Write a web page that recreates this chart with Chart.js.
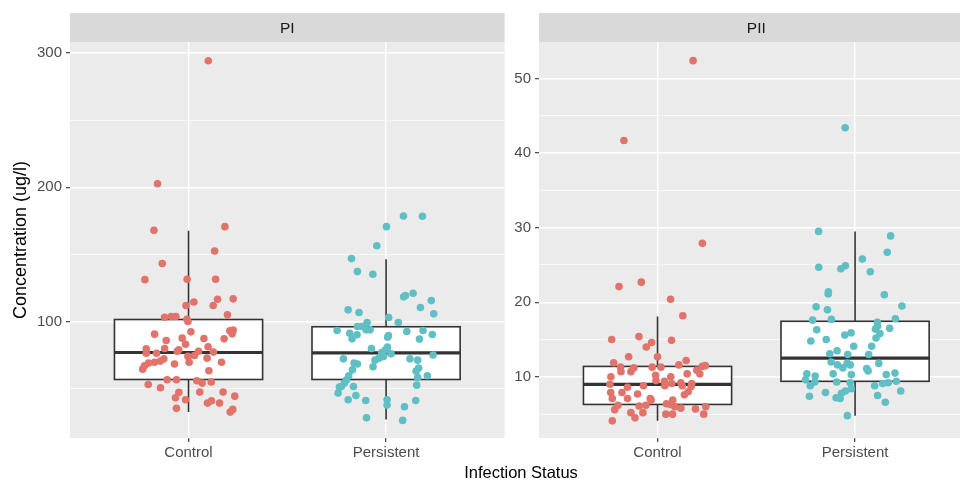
<!DOCTYPE html>
<html>
<head>
<meta charset="utf-8">
<script src="https://cdn.jsdelivr.net/npm/chart.js@4.4.1/dist/chart.umd.min.js"></script>
<style>
  html, body { margin: 0; padding: 0; background: #ffffff; }
  body { width: 960px; height: 481px; overflow: hidden; position: relative; }
  canvas { position: absolute; top: 0; }
  #xTitle {
    position: absolute; left: 0; width: 1042px; top: 463px;
    text-align: center; font: 16.5px "Liberation Sans", Arial, sans-serif; color: #000;
  }
</style>
</head>
<body>
<canvas id="piChart" width="510" height="481" style="left:0px"></canvas>
<canvas id="piiChart" width="474" height="481" style="left:505px"></canvas>
<div id="xTitle">Infection Status</div>

<script>
// ----------------------------- Data ---------------------------------------//
const categories = ['Control', 'Persistent'];
const panelNames = ['PI', 'PII'];

// PI panel - concentration values and horizontal jitter (category units)
const piControlValues = [294.3, 202.7, 168.0, 170.7, 152.6, 143.2, 131.2, 131.5, 131.5, 116.9, 116.6, 114.6, 111.9, 111.9, 105.0, 103.2, 103.7, 103.7, 101.7, 100.0, 93.1, 93.6, 90.8, 92.3, 90.6, 87.1, 87.4, 87.6, 85.9, 83.1, 81.2, 79.7, 78.9, 79.9, 77.9, 77.2, 76.4, 76.4, 77.9, 74.0, 74.7, 72.7, 72.2, 69.7, 68.3, 69.7, 70.5, 69.7, 69.0, 67.0, 64.5, 63.3, 56.6, 56.6, 55.9, 54.1, 54.9, 53.1, 50.6, 47.4, 47.4, 47.2, 43.2, 44.4, 41.7, 41.0, 39.2, 39.2, 35.3, 34.5, 32.5];
const piControlJitter = [0.10, -0.157, -0.175, 0.184, 0.132, -0.133, -0.221, -0.007, 0.137, 0.226, 0.147, 0.027, -0.013, 0.125, 0.197, -0.121, -0.088, -0.064, -0.008, -0.003, 0.209, 0.226, 0.221, 0.012, -0.172, 0.18, 0.078, -0.032, -0.113, -0.015, 0.099, -0.214, -0.049, -0.121, 0.051, 0.126, -0.162, -0.214, -0.057, -0.003, 0.03, 0.094, -0.125, 0.003, -0.071, 0.167, -0.143, -0.172, -0.202, -0.223, -0.232, 0.103, -0.108, -0.061, 0.042, 0.069, 0.115, -0.204, -0.142, 0.057, 0.175, -0.049, -0.066, 0.234, -0.015, 0.116, 0.096, 0.157, -0.061, 0.224, 0.211];
const piPersistentValues = [178.6, 178.4, 170.7, 156.5, 146.9, 137.2, 135.2, 121.1, 118.4, 119.3, 115.6, 110.4, 105.7, 108.7, 106.7, 103.0, 99.3, 99.3, 96.3, 96.3, 93.8, 93.8, 93.3, 91.3, 90.1, 87.1, 89.6, 88.3, 92.6, 93.3, 90.3, 86.9, 79.9, 80.9, 78.9, 75.9, 76.9, 74.0, 72.7, 71.2, 72.2, 72.2, 71.2, 75.0, 68.3, 69.0, 64.0, 66.3, 65.3, 63.0, 59.6, 58.3, 59.6, 56.6, 54.1, 51.6, 51.1, 51.6, 52.6, 46.7, 44.9, 41.7, 41.2, 41.7, 37.7, 41.2, 36.5, 28.3, 26.3];
const piPersistentJitter = [0.088, 0.184, 0.002, -0.047, -0.175, -0.145, -0.067, 0.137, 0.089, 0.098, 0.229, 0.174, 0.241, -0.192, -0.137, 0.013, 0.062, -0.096, -0.145, -0.12, -0.081, -0.101, -0.248, -0.184, -0.147, -0.172, 0.012, 0.008, 0.105, 0.187, 0.234, 0.169, -0.074, 0.007, -0.003, 0.025, -0.022, -0.013, -0.035, -0.056, -0.216, 0.121, 0.16, 0.238, -0.145, -0.162, -0.17, -0.066, 0.165, 0.152, 0.209, 0.16, -0.189, -0.2, -0.211, -0.226, -0.236, -0.165, 0.155, -0.243, -0.153, -0.192, -0.103, 0.005, 0.005, 0.15, 0.093, -0.099, 0.084];

// PII panel
const piiControlValues = [52.4, 41.7, 27.9, 22.1, 22.7, 20.4, 18.2, 15.0, 15.4, 14.6, 14.0, 14.9, 12.7, 12.7, 12.2, 11.9, 11.3, 10.7, 10.7, 11.2, 11.3, 11.3, 11.6, 10.9, 11.4, 11.5, 10.4, 10.4, 10.0, 10.2, 10.0, 9.0, 9.5, 9.4, 8.8, 9.1, 8.8, 8.6, 9.2, 8.8, 9.1, 8.7, 7.9, 7.9, 7.7, 7.1, 7.1, 7.1, 6.9, 7.6, 8.0, 6.2, 6.1, 6.2, 6.4, 6.3, 6.9, 6.0, 5.8, 6.0, 5.6, 5.2, 5.2, 4.5, 5.0, 5.0, 5.7, 5.0, 4.1];
const piiControlJitter = [0.18, -0.17, 0.227, -0.195, -0.082, 0.066, 0.128, -0.232, -0.094, -0.03, -0.057, 0.071, -0.146, 0, 0.145, -0.222, -0.187, -0.185, -0.135, -0.12, -0.027, 0.017, 0.108, 0.199, 0.227, 0.242, 0.214, 0.15, -0.236, -0.01, 0.067, -0.241, -0.008, 0.035, 0.037, 0.072, -0.071, -0.152, 0.118, 0.125, 0.173, 0.17, -0.237, -0.18, -0.101, -0.229, -0.152, -0.037, -0.032, 0.136, 0.155, -0.2, -0.093, -0.059, 0.045, 0.066, 0.077, 0.088, 0.118, 0.244, -0.217, -0.135, -0.074, -0.114, 0.042, 0.076, 0.192, 0.234, -0.229];
const piiPersistentValues = [43.4, 29.5, 28.9, 26.7, 24.7, 24.5, 24.9, 25.8, 24.1, 21.4, 21.1, 21.0, 19.4, 19.5, 19.0, 17.6, 17.7, 17.8, 17.3, 16.3, 16.4, 16.5, 16.8, 15.6, 15.9, 15.8, 14.8, 15.0, 15.2, 14.1, 14.1, 13.5, 13.0, 13.1, 13.0, 12.0, 11.6, 11.2, 11.8, 11.6, 11.8, 11.1, 10.8, 10.4, 10.1, 9.6, 9.3, 8.8, 10.4, 9.3, 10.3, 9.2, 10.3, 10.5, 9.1, 9.2, 9.4, 8.8, 8.4, 8.1, 7.8, 7.9, 7.4, 7.2, 7.1, 8.1, 7.5, 6.6, 4.8];
const piiPersistentJitter = [-0.05, -0.185, 0.18, 0.163, -0.184, -0.072, -0.049, 0.037, 0.077, -0.135, -0.136, 0.148, -0.197, 0.237, -0.14, -0.215, -0.12, 0.204, 0.113, -0.194, 0.103, 0.175, 0.114, -0.052, -0.02, 0.126, -0.224, -0.146, 0.106, -0.007, 0.084, -0.091, 0.069, -0.128, -0.037, -0.121, -0.089, -0.062, -0.04, -0.024, 0.12, 0.059, 0.066, -0.244, -0.202, -0.251, -0.204, -0.227, -0.111, -0.093, -0.019, -0.025, 0.158, 0.202, 0.14, 0.168, 0.209, 0.099, -0.019, -0.049, -0.069, -0.15, -0.231, -0.096, -0.076, 0.231, 0.114, 0.153, -0.039];

// Box stats: [Control, Persistent]
const piWhiskerLow  = [32.6, 26.9];
const piQ1          = [56.8, 56.8];
const piMedian      = [76.9, 76.7];
const piQ3          = [101.5, 96.1];
const piWhiskerHigh = [167.7, 146.4];

const piiWhiskerLow  = [4.1, 4.8];
const piiQ1          = [6.3, 9.4];
const piiMedian      = [9.0, 12.5];
const piiQ3          = [11.4, 17.45];
const piiWhiskerHigh = [18.1, 29.5];

// Axis ticks (majors get labels, the rest are minor grid lines)
const piTicks = [50, 100, 150, 200, 250, 300];
const piMajor = [100, 200, 300];
const piRange = [13.2, 308.3];
const piiTicks = [5, 10, 15, 20, 25, 30, 35, 40, 45, 50];
const piiMajor = [10, 20, 30, 40, 50];
const piiRange = [1.8, 54.9];

// ----------------------------- Styling ------------------------------------//
const FONT = '"Liberation Sans", Arial, Helvetica, sans-serif';
const colors = ['#E2736B', '#5FBFC4'];
const PANEL_BG = '#EBEBEB';
const STRIP_BG = '#D9D9D9';
const DARK = '#333333';

function toPoints(values, jitter, pos) {
  const n = Math.min(values.length, jitter.length);
  const pts = [];
  for (let i = 0; i < n; i++) pts.push({ x: pos + jitter[i], y: values[i] });
  return pts;
}

// panel background + strip label
const panelPlugin = {
  id: 'panel',
  beforeDraw(chart, args, opts) {
    const { ctx, chartArea: a } = chart;
    ctx.save();
    ctx.fillStyle = PANEL_BG;
    ctx.fillRect(a.left, a.top, a.right - a.left, a.bottom - a.top);
    ctx.fillStyle = STRIP_BG;
    ctx.fillRect(a.left, 13, a.right - a.left, a.top - 13);
    ctx.fillStyle = '#1A1A1A';
    ctx.font = '15.5px ' + FONT;
    ctx.textAlign = 'center';
    ctx.textBaseline = 'middle';
    ctx.fillText(opts.label, (a.left + a.right) / 2, (13 + a.top) / 2 + 1);
    ctx.restore();
  }
};

// boxplots, drawn through the scales under the points
const boxPlugin = {
  id: 'boxes',
  beforeDatasetsDraw(chart, args, opts) {
    const { ctx } = chart;
    const xs = chart.scales.x, ys = chart.scales.y;
    ctx.save();
    for (let i = 0; i < categories.length; i++) {
      const pos = i + 1;
      const xl = xs.getPixelForValue(pos - 0.375);
      const xr = xs.getPixelForValue(pos + 0.375);
      const xc = xs.getPixelForValue(pos);
      const yq1 = ys.getPixelForValue(opts.q1[i]);
      const yq3 = ys.getPixelForValue(opts.q3[i]);
      const ymed = ys.getPixelForValue(opts.median[i]);
      const ylo = ys.getPixelForValue(opts.low[i]);
      const yhi = ys.getPixelForValue(opts.high[i]);

      ctx.strokeStyle = DARK;
      ctx.lineWidth = 1.6;
      // whiskers
      ctx.beginPath();
      ctx.moveTo(xc, yq3); ctx.lineTo(xc, yhi);
      ctx.moveTo(xc, yq1); ctx.lineTo(xc, ylo);
      ctx.stroke();
      // box
      ctx.fillStyle = '#ffffff';
      ctx.fillRect(xl, yq3, xr - xl, yq1 - yq3);
      ctx.strokeRect(xl, yq3, xr - xl, yq1 - yq3);
      // median
      ctx.lineWidth = 3.2;
      ctx.beginPath();
      ctx.moveTo(xl, ymed); ctx.lineTo(xr, ymed);
      ctx.stroke();
    }
    ctx.restore();
  }
};

function makePanel(canvasId, opt) {
  const canvas = document.getElementById(canvasId);
  return new Chart(canvas, {
    type: 'scatter',
    data: {
      datasets: categories.map((c, i) => ({
        label: c,
        data: toPoints(opt.values[i], opt.jitter[i], i + 1),
        backgroundColor: colors[i],
        borderWidth: 0,
        pointRadius: 3.8,
        pointHoverRadius: 3.8
      }))
    },
    options: {
      responsive: false,
      animation: false,
      events: [],
      layout: { padding: { top: 42, right: 5.4, bottom: 0, left: 0 } },
      plugins: {
        legend: { display: false },
        tooltip: { enabled: false },
        panel: { label: opt.label },
        boxes: opt.box
      },
      scales: {
        x: {
          type: 'linear',
          min: 0.4, max: 2.6,
          afterBuildTicks: (s) => { s.ticks = [{ value: 1 }, { value: 2 }]; },
          afterFit: (s) => { s.height = 43; },
          border: { display: false },
          grid: { color: '#ffffff', lineWidth: 1.4, tickColor: DARK, tickWidth: 1.1, tickLength: 4 },
          ticks: {
            padding: 2,
            color: '#4D4D4D',
            font: { family: FONT, size: 15 },
            callback: (v) => categories[v - 1] || ''
          }
        },
        y: {
          min: opt.range[0], max: opt.range[1],
          afterBuildTicks: (s) => { s.ticks = opt.ticks.map(v => ({ value: v })); },
          afterFit: (s) => { s.width = opt.axisWidth; },
          border: { display: false },
          grid: {
            color: '#ffffff',
            lineWidth: (c) => opt.major.includes(c.tick.value) ? 1.4 : 0.7,
            tickColor: (c) => opt.major.includes(c.tick.value) ? DARK : 'rgba(0,0,0,0)',
            tickWidth: 1.1,
            tickLength: 4
          },
          ticks: {
            padding: 4,
            color: '#4D4D4D',
            font: { family: FONT, size: 15 },
            callback: (v) => opt.major.includes(v) ? String(v) : ''
          },
          title: {
            display: opt.yTitle !== '',
            text: opt.yTitle,
            color: '#000000',
            font: { family: FONT, size: 18 },
            padding: { top: 10, bottom: 0 }
          }
        }
      }
    },
    plugins: [panelPlugin, boxPlugin]
  });
}

// ----------------------------- Charts -------------------------------------//
makePanel('piChart', {
  label: panelNames[0],
  values: [piControlValues, piPersistentValues],
  jitter: [piControlJitter, piPersistentJitter],
  box: { low: piWhiskerLow, q1: piQ1, median: piMedian, q3: piQ3, high: piWhiskerHigh },
  ticks: piTicks, major: piMajor, range: piRange,
  axisWidth: 70,
  yTitle: 'Concentration (ug/l)'
});

makePanel('piiChart', {
  label: panelNames[1],
  values: [piiControlValues, piiPersistentValues],
  jitter: [piiControlJitter, piiPersistentJitter],
  box: { low: piiWhiskerLow, q1: piiQ1, median: piiMedian, q3: piiQ3, high: piiWhiskerHigh },
  ticks: piiTicks, major: piiMajor, range: piiRange,
  axisWidth: 34,
  yTitle: ''
});
</script>
</body>
</html>
